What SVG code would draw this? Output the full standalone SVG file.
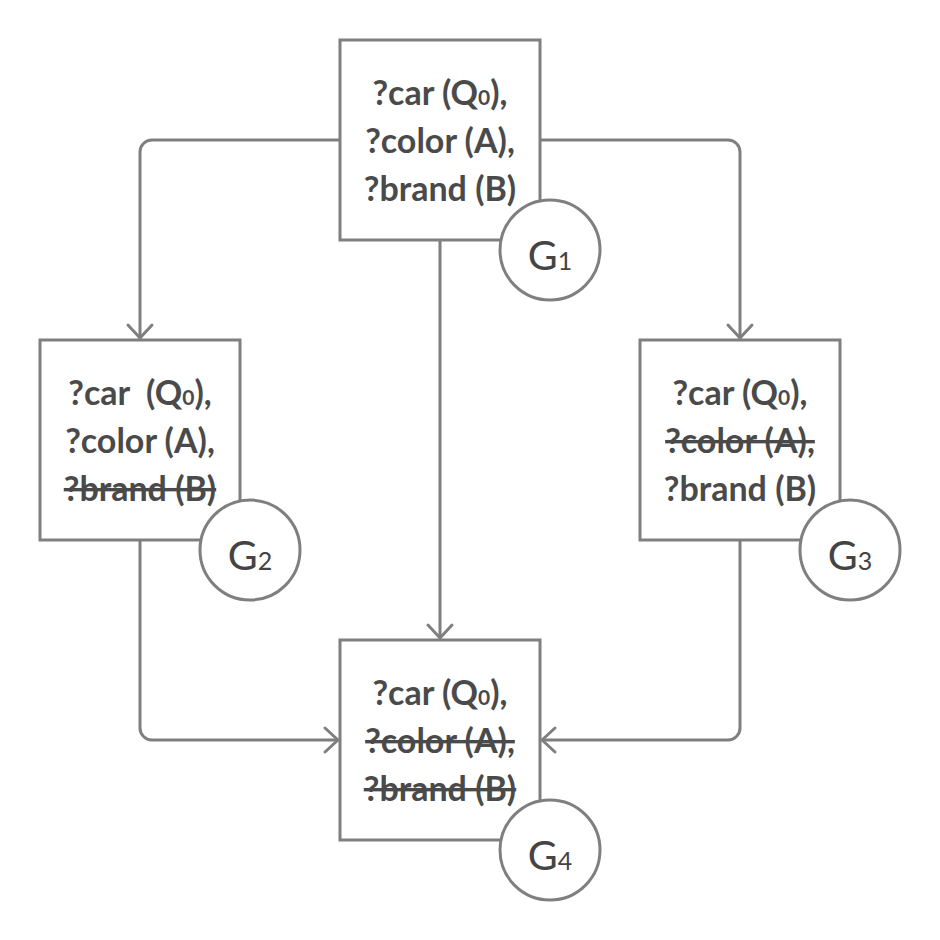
<svg xmlns="http://www.w3.org/2000/svg" width="940" height="940" viewBox="0 0 940 940">
<style>
.box{fill:#fff;stroke:#7f7f7f;stroke-width:3}
.circ{fill:#fff;stroke:#7f7f7f;stroke-width:3}
.conn{fill:none;stroke:#7f7f7f;stroke-width:3}
.t{font-family:Lato,"Noto Sans",sans-serif;font-size:34px;font-weight:bold;fill:#4a4a4a;text-anchor:middle}
.s{text-decoration:line-through}
.g{font-family:Lato,"Noto Sans",sans-serif;font-size:41px;fill:#444;text-anchor:middle}
.sub0{font-size:21px}
.subg{font-size:25px}
</style>
<defs>
<marker id="arr" markerUnits="userSpaceOnUse" viewBox="-16 -16 20 32" refX="0" refY="0" markerWidth="20" markerHeight="32" orient="auto">
<path d="M-13,-12 L0,0 L-13,12" fill="none" stroke="#7f7f7f" stroke-width="3" stroke-linecap="round" stroke-linejoin="round"/>
</marker>
</defs>
<g id="connectors">
<path class="conn" d="M340,140 H152 A12,12 0 0 0 140,152 V338" marker-end="url(#arr)"/>
<path class="conn" d="M540,140 H728 A12,12 0 0 1 740,152 V338" marker-end="url(#arr)"/>
<path class="conn" d="M440,240 V638" marker-end="url(#arr)"/>
<path class="conn" d="M140,540 V728 A12,12 0 0 0 152,740 H338" marker-end="url(#arr)"/>
<path class="conn" d="M740,540 V728 A12,12 0 0 1 728,740 H542" marker-end="url(#arr)"/>
</g>
<g id="G1">
<rect class="box" x="340" y="40" width="200" height="200"/>
<text class="t" x="440" y="105">?car (Q<tspan class="sub0">0</tspan>),</text>
<text class="t" x="440" y="153">?color (A),</text>
<text class="t" x="440" y="201">?brand (B)</text>
<circle class="circ" cx="550" cy="250" r="50"/>
<text class="g" x="550" y="270">G<tspan class="subg">1</tspan></text>
</g>
<g id="G2">
<rect class="box" x="40" y="340" width="200" height="200"/>
<text class="t" x="140" y="405">?car &#160;(Q<tspan class="sub0">0</tspan>),</text>
<text class="t" x="140" y="453">?color (A),</text>
<text class="t s" x="140" y="501">?brand (B)</text>
<circle class="circ" cx="250" cy="550" r="50"/>
<text class="g" x="250" y="570">G<tspan class="subg">2</tspan></text>
</g>
<g id="G3">
<rect class="box" x="640" y="340" width="200" height="200"/>
<text class="t" x="740" y="405">?car (Q<tspan class="sub0">0</tspan>),</text>
<text class="t s" x="740" y="453">?color (A),</text>
<text class="t" x="740" y="501">?brand (B)</text>
<circle class="circ" cx="850" cy="550" r="50"/>
<text class="g" x="850" y="570">G<tspan class="subg">3</tspan></text>
</g>
<g id="G4">
<rect class="box" x="340" y="640" width="200" height="200"/>
<text class="t" x="440" y="705">?car (Q<tspan class="sub0">0</tspan>),</text>
<text class="t s" x="440" y="753">?color (A),</text>
<text class="t s" x="440" y="801">?brand (B)</text>
<circle class="circ" cx="550" cy="850" r="50"/>
<text class="g" x="550" y="870">G<tspan class="subg">4</tspan></text>
</g>
</svg>
